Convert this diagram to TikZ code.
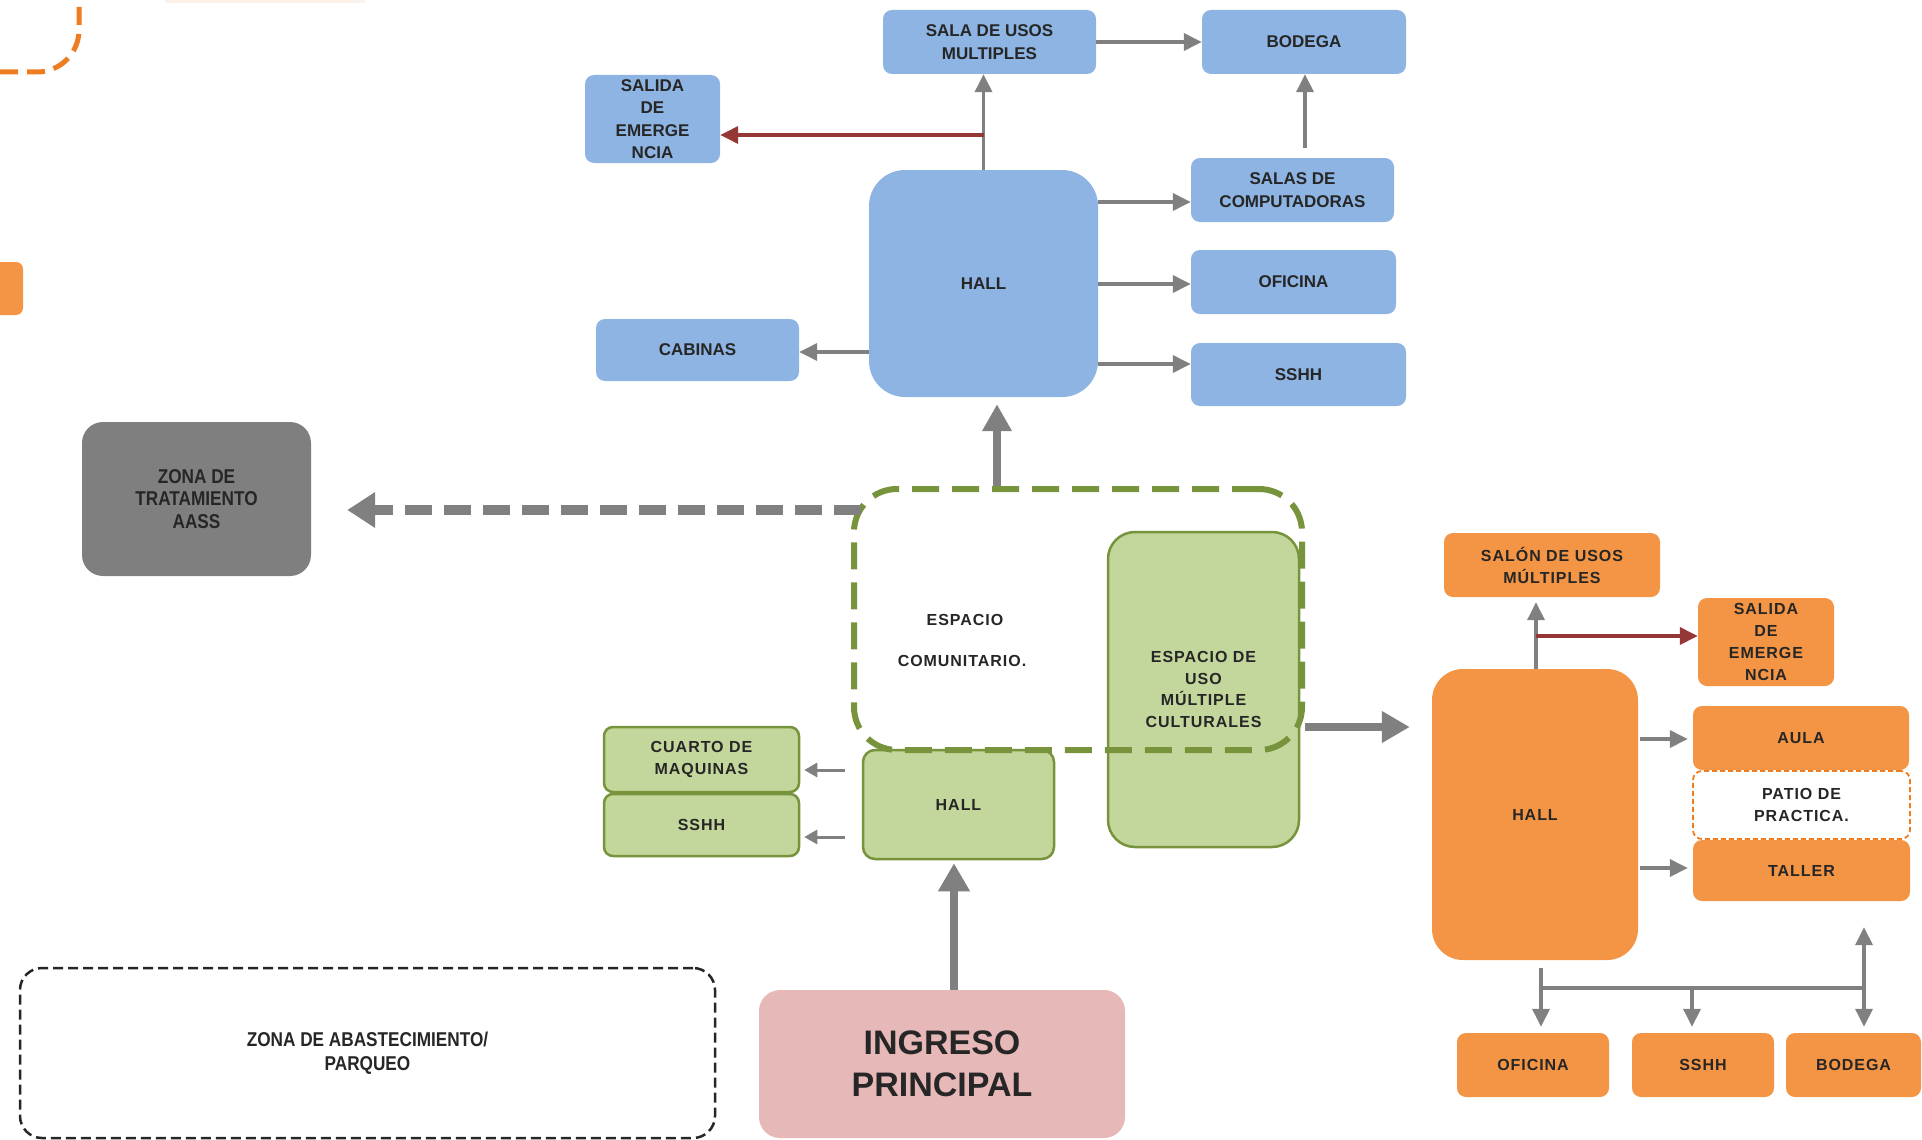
\documentclass[tikz,border=0pt]{standalone}
\usepackage{fontspec}
\setmainfont{Liberation Sans}
\newfontfamily\narrowf{Liberation Sans}[FakeStretch=0.86]
\usetikzlibrary{arrows.meta}
\definecolor{blueF}{HTML}{8DB4E2}
\definecolor{orF}{HTML}{F39544}
\definecolor{orD}{HTML}{EE7D22}
\definecolor{grF}{HTML}{C3D69B}
\definecolor{grD}{HTML}{77933C}
\definecolor{grayF}{HTML}{7F7F7F}
\definecolor{arrG}{HTML}{808080}
\definecolor{redA}{HTML}{953735}
\definecolor{pinkF}{HTML}{E6B9B8}
\definecolor{txt}{HTML}{262626}
\begin{document}
\begin{tikzpicture}[x=1pt,y=-1pt,
  box/.style={rounded corners=9pt, inner sep=0pt, align=center, text=txt},
  bluebox/.style={box, fill=blueF, font=\bfseries\fontsize{17}{22.5}\selectfont},
  orbox/.style={box, fill=orF, font=\bfseries\fontsize{16}{22}\selectfont\addfontfeature{LetterSpace=6}},
  grbox/.style={box, fill=grF, draw=grD, line width=2.5pt, font=\bfseries\fontsize{16}{21.7}\selectfont\addfontfeature{LetterSpace=6}},
  arr/.style={draw=arrG, line width=3.5pt, -{Triangle[length=18pt,width=17pt]}},
  sarr/.style={draw=arrG, line width=3pt, -{Triangle[length=13pt,width=14pt]}},
  redarr/.style={draw=redA, line width=3.5pt, -{Triangle[length=18pt,width=17pt]}},
  bigarr/.style={draw=arrG, line width=8pt, -{Triangle[length=28pt,width=30pt]}},
  dasharr/.style={draw=arrG, line width=10pt, dash pattern=on 27pt off 12pt, -{Triangle[length=28pt,width=34pt]}},
  plainline/.style={draw=arrG, line width=3.5pt}
]
\useasboundingbox (0,0) rectangle (1922,1140);

% fragments at the left edge
\fill[orF!12] (165,0) rectangle (365,3);
\draw[orD, line width=5pt, dash pattern=on 18pt off 9pt, rounded corners=42pt] (0,72) -- (79,72) -- (79,-10);
\fill[orF, rounded corners=7pt] (-20,262) rectangle (23,315);

% ---------- blue block ----------
\node[bluebox, minimum width=213pt, minimum height=64pt] (salaum) at (989.5,42) {SALA DE USOS\\MULTIPLES};
\node[bluebox, minimum width=204pt, minimum height=64pt] (bodegaB) at (1304,42) {BODEGA};
\node[bluebox, minimum width=135pt, minimum height=88pt] (salidaB) at (652.5,119) {SALIDA\\DE\\EMERGE\\NCIA};
\node[bluebox, rounded corners=36pt, minimum width=229pt, minimum height=227pt] (hallB) at (983.5,283.5) {HALL};
\node[bluebox, minimum width=203pt, minimum height=64pt] (compu) at (1292.5,190) {SALAS DE\\COMPUTADORAS};
\node[bluebox, minimum width=205pt, minimum height=64pt] (oficB) at (1293.5,282) {OFICINA};
\node[bluebox, minimum width=215pt, minimum height=63pt] (sshhB) at (1298.5,374.5) {SSHH};
\node[bluebox, minimum width=203pt, minimum height=62pt] (cabinas) at (697.5,350) {CABINAS};

\coordinate (yRed) at (0,135);
\coordinate (yCo) at (0,202);
\coordinate (yOf) at (0,284);
\coordinate (ySs) at (0,364);
\coordinate (yCa) at (0,352);
\coordinate (xBod) at (1305,0);

\draw[arr] (salaum.east) -- (bodegaB.west);
\draw[arr] (hallB.north) -- (hallB.north |- salaum.south);
\draw[redarr] (hallB.north |- yRed) -- (salidaB.east |- yRed);
\draw[arr, shorten <=10pt] (xBod |- compu.north) -- (xBod |- bodegaB.south);
\draw[arr] (hallB.east |- yCo) -- (compu.west |- yCo);
\draw[arr] (hallB.east |- yOf) -- (oficB.west |- yOf);
\draw[arr] (hallB.east |- ySs) -- (sshhB.west |- ySs);
\draw[arr] (hallB.west |- yCa) -- (cabinas.east |- yCa);

% ---------- grey zone ----------
\node[box, rounded corners=21pt, fill=grayF, minimum width=229pt, minimum height=154pt,
  font=\narrowf\bfseries\fontsize{20}{22.5}\selectfont] (zona) at (196.5,499) {ZONA DE\\TRATAMIENTO\\AASS};

% ---------- green block ----------
\node[grbox, rounded corners=27pt, minimum width=191pt, minimum height=315pt] (multi) at (1203.5,689.5) {ESPACIO DE\\USO\\MÚLTIPLE\\CULTURALES};
\node[grbox, rounded corners=12pt, minimum width=191pt, minimum height=109pt] (hallG) at (958.5,804.5) {HALL};
\node[grbox, minimum width=195pt, minimum height=65pt] (cuarto) at (701.5,759.5) {CUARTO DE\\MAQUINAS};
\node[grbox, minimum width=195pt, minimum height=62pt] (sshhG) at (701.5,825) {SSHH};
\node[draw=grD, line width=6pt, dash pattern=on 27pt off 13pt, rounded corners=43pt,
  minimum width=448pt, minimum height=261pt, inner sep=0pt] (esp) at (1078,619.5) {};
\node[text=txt, font=\bfseries\fontsize{16}{20}\selectfont\addfontfeature{LetterSpace=6}] (espT1) at (965,620) {ESPACIO};
\node[text=txt, font=\bfseries\fontsize{16}{20}\selectfont\addfontfeature{LetterSpace=6}] (espT2) at (962,661) {COMUNITARIO.};

\coordinate (yG1) at (0,770);
\coordinate (yG2) at (0,837);
\coordinate (xUp) at (997,0);
\coordinate (yDs) at (0,510);
\coordinate (yRt) at (0,727);
\coordinate (xIn) at (954,0);

\draw[sarr, shorten <=17pt, shorten >=4pt] (hallG.west |- yG1) -- (cuarto.east |- yG1);
\draw[sarr, shorten <=17pt, shorten >=4pt] (hallG.west |- yG2) -- (sshhG.east |- yG2);
\draw[bigarr, line width=7.5pt, -{Triangle[length=27pt,width=28pt]}, shorten >=7pt] (xUp |- esp.north) -- (xUp |- hallB.south);
\draw[dasharr, shorten <=-10pt, shorten >=36pt] (esp.west |- yDs) -- (zona.east |- yDs);

% ---------- ingreso / parqueo ----------
\node[box, rounded corners=21pt, fill=pinkF, minimum width=366pt, minimum height=148pt,
  font=\bfseries\fontsize{34}{42}\selectfont, text=black!85] (ingreso) at (942,1064) {INGRESO\\PRINCIPAL};
\draw[bigarr, shorten >=3pt] (xIn |- ingreso.north) -- (xIn |- hallG.south);
\node[box, draw=black!85, line width=2.5pt, dash pattern=on 10pt off 5pt, rounded corners=22pt,
  minimum width=695pt, minimum height=170pt, font=\narrowf\bfseries\fontsize{20}{23.5}\selectfont] (abast) at (367.5,1053) {ZONA DE ABASTECIMIENTO/\\PARQUEO};

% ---------- orange block ----------
\node[orbox, minimum width=216pt, minimum height=64pt] (salon) at (1552,565) {SALÓN DE USOS\\MÚLTIPLES};
\node[orbox, minimum width=136pt, minimum height=88pt] (salidaO) at (1766,642) {SALIDA\\DE\\EMERGE\\NCIA};
\node[orbox, rounded corners=31pt, minimum width=206pt, minimum height=291pt] (hallO) at (1535,814.5) {HALL};
\node[orbox, minimum width=216pt, minimum height=64pt] (aula) at (1801,738) {AULA};
\node[orbox, minimum width=217pt, minimum height=61pt] (taller) at (1801.5,870.5) {TALLER};
\node[orbox, fill=white, draw=orD, line width=1.8pt, dash pattern=on 5pt off 3pt, minimum width=217pt, minimum height=68pt] (patio) at (1801.5,805) {PATIO DE\\PRACTICA.};
\node[orbox, minimum width=152pt, minimum height=64pt] (oficO) at (1533,1065) {OFICINA};
\node[orbox, minimum width=142pt, minimum height=64pt] (sshhO) at (1703,1065) {SSHH};
\node[orbox, minimum width=135pt, minimum height=64pt] (bodegaO) at (1853.5,1065) {BODEGA};

\draw[bigarr, shorten >=22pt] (esp.east |- yRt) -- (hallO.west |- yRt);

\coordinate (xO) at (1536,0);
\coordinate (yRO) at (0,636);
\coordinate (yAu) at (0,739);
\coordinate (yTa) at (0,868);
\coordinate (t0) at (1541,968);
\coordinate (t1) at (1692,988);
\coordinate (t2) at (1864,988);

\draw[arr, shorten >=5pt] (xO |- hallO.north) -- (xO |- salon.south);
\draw[redarr] (xO |- yRO) -- (salidaO.west |- yRO);
\draw[arr, shorten <=2pt, shorten >=5pt] (hallO.east |- yAu) -- (aula.west |- yAu);
\draw[arr, shorten <=2pt, shorten >=5pt] (hallO.east |- yTa) -- (taller.west |- yTa);
\draw[arr, shorten >=6pt] (t0) -- (t0 |- oficO.north);
\draw[plainline] (t0 |- t2) -- (t2);
\draw[arr, shorten >=6pt] (t1) -- (t1 |- sshhO.north);
\draw[arr, shorten >=6pt] (t2) -- (t2 |- bodegaO.north);
\draw[arr, shorten >=26pt] (t2) -- (t2 |- taller.south);
\end{tikzpicture}
\end{document}
